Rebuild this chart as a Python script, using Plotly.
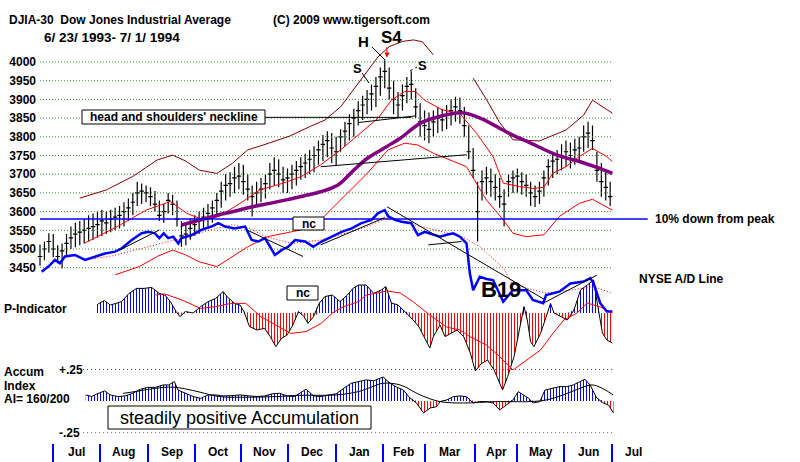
import plotly.graph_objects as go

# ---------------- data (trading-day index 0 = 6/23/1993) ----------------
month_start_day = [6, 27, 49, 70, 91, 112, 134, 155, 174, 197, 216, 237, 259]
month_labels = ["Jul", "Aug", "Sep", "Oct", "Nov", "Dec", "Jan", "Feb", "Mar", "Apr", "May", "Jun", "Jul"]
price_ticks = [3450, 3500, 3550, 3600, 3650, 3700, 3750, 3800, 3850, 3900, 3950, 4000]
peak_price = 3978

bar_day = list(range(0, 259, 2))
price_high = [3512, 3520, 3542, 3540, 3510, 3515, 3540, 3560, 3570, 3575,
              3580, 3590, 3595, 3600, 3605, 3600, 3605, 3610, 3615, 3625,
              3635, 3650, 3680, 3675, 3670, 3665, 3655, 3630, 3620, 3650,
              3645, 3630, 3575, 3565, 3580, 3590, 3600, 3610, 3620, 3630,
              3650, 3680, 3700, 3705, 3720, 3730, 3725, 3700, 3670, 3680,
              3690, 3700, 3730, 3745, 3740, 3720, 3715, 3725, 3735, 3745,
              3755, 3765, 3775, 3790, 3805, 3815, 3810, 3800, 3820, 3840,
              3860, 3875, 3895, 3910, 3925, 3940, 3960, 3985, 4005, 3985,
              3950, 3920, 3940, 3960, 3975, 3930, 3890, 3870, 3865, 3870,
              3880, 3875, 3885, 3900, 3907, 3905, 3880, 3830, 3770, 3680,
              3710, 3720, 3715, 3700, 3690, 3660, 3700, 3710, 3715, 3705,
              3700, 3680, 3670, 3680, 3710, 3740, 3760, 3765, 3780, 3790,
              3785, 3795, 3800, 3830, 3840, 3830, 3760, 3730, 3710, 3680]
price_low = [3455, 3470, 3490, 3478, 3462, 3448, 3480, 3500, 3505, 3510,
             3515, 3520, 3525, 3530, 3535, 3540, 3545, 3550, 3555, 3560,
             3575, 3590, 3615, 3620, 3625, 3615, 3600, 3575, 3570, 3595,
             3590, 3560, 3506, 3510, 3525, 3535, 3540, 3550, 3560, 3570,
             3590, 3610, 3630, 3640, 3650, 3660, 3645, 3630, 3587, 3620,
             3625, 3635, 3660, 3670, 3665, 3650, 3650, 3660, 3670, 3685,
             3690, 3700, 3705, 3725, 3735, 3745, 3730, 3722, 3760, 3775,
             3790, 3800, 3830, 3845, 3860, 3870, 3880, 3910, 3930, 3900,
             3860, 3850, 3870, 3890, 3900, 3850, 3800, 3790, 3783, 3800,
             3810, 3815, 3820, 3830, 3840, 3835, 3800, 3740, 3690, 3520,
             3630, 3645, 3640, 3630, 3610, 3560, 3640, 3650, 3650, 3645,
             3640, 3615, 3612, 3620, 3640, 3670, 3690, 3700, 3710, 3720,
             3715, 3725, 3730, 3760, 3770, 3765, 3680, 3640, 3630, 3615]
price_close = [3480, 3500, 3520, 3500, 3480, 3495, 3515, 3530, 3540, 3545,
               3550, 3555, 3560, 3565, 3575, 3570, 3580, 3585, 3590, 3600,
               3610, 3625, 3650, 3655, 3650, 3640, 3620, 3590, 3600, 3630,
               3620, 3580, 3535, 3540, 3555, 3565, 3575, 3585, 3595, 3610,
               3630, 3655, 3670, 3675, 3690, 3695, 3680, 3660, 3640, 3650,
               3660, 3675, 3700, 3710, 3700, 3685, 3690, 3700, 3710, 3720,
               3730, 3740, 3750, 3765, 3780, 3790, 3770, 3760, 3800, 3815,
               3835, 3850, 3870, 3885, 3900, 3915, 3935, 3960, 3975, 3930,
               3900, 3885, 3910, 3935, 3940, 3880, 3840, 3830, 3820, 3840,
               3850, 3845, 3860, 3870, 3880, 3870, 3830, 3760, 3710, 3600,
               3680, 3690, 3680, 3665, 3640, 3620, 3680, 3690, 3695, 3680,
               3670, 3650, 3640, 3655, 3690, 3720, 3735, 3740, 3750, 3760,
               3750, 3765, 3770, 3800, 3810, 3790, 3710, 3680, 3665, 3640]

ma_day = [64, 72, 80, 88, 96, 104, 112, 120, 127, 135, 142, 148, 157, 163, 172,
          180, 191, 200, 204, 212, 222, 234, 244, 252, 259]
ma_val = [3564, 3577, 3590, 3601, 3613, 3622, 3632, 3643, 3653, 3672, 3711, 3742,
          3774, 3796, 3836, 3853, 3864, 3848, 3836, 3810, 3783, 3751, 3734, 3718, 3702]

upper_day = [18, 30, 42, 53, 60, 66, 72, 80, 87, 94, 101, 113, 122, 129, 136, 144,
             153, 158, 164, 169, 173, 178, None, 196, 202, 208, 214, 226, 238, 246,
             250, 259]
upper_val = [3636, 3658, 3694, 3738, 3751, 3735, 3711, 3702, 3729, 3765, 3778, 3802,
             3827, 3845, 3880, 3943, 4014, 4041, 4055, 4059, 4054, 4019, None, 3957,
             3900, 3838, 3792, 3789, 3818, 3858, 3898, 3863]

mid_day = [20, 35, 48, 59, 66.5, 74, 81, 90.5, 99.5, 110, 118, 127, 136, 145, 153,
           159, 165, 170, 174, 182, 190, 197.6, 205, 209.6, 217, 223, 228, 232, 238,
           244, 250, 256.5, 259]
mid_val = [3515, 3560, 3604, 3627, 3595, 3578, 3587, 3622, 3658, 3676, 3693, 3725,
           3765, 3809, 3850, 3898, 3921, 3921, 3898, 3872, 3862, 3809, 3747, 3676,
           3667, 3662, 3665, 3702, 3720, 3747, 3769, 3747, 3734]

lower_day = [34, 45, 53, 60, 66, 72, 80, 87, 94, 103, 118, 127, 136, 141, 148, 157.5,
             165, 171, 178, 193, 202, 209.6, 214, 220, 228, 235, 244, 250, 259]
lower_val = [3431, 3453, 3480, 3497, 3484, 3466, 3453, 3480, 3506, 3533, 3551, 3578,
             3631, 3658, 3702, 3765, 3783, 3778, 3756, 3720, 3631, 3578, 3542, 3533,
             3538, 3587, 3622, 3633, 3604]

ad_day = [0.75, 3.8, 6.8, 9, 11.3, 15.8, 20.4, 24.9, 29.4, 34, 37, 41.5, 46, 49, 52,
          54, 56, 58, 60.3, 62.6, 64, 68.6, 73, 77.6, 80.7, 83.7, 88, 92.8, 95.8, 98.8,
          101.8, 106.3, 109.3, 112.3, 115.4, 120, 123.6, 127.4, 132, 136.5, 141, 145.5,
          150, 153, 156, 157.6, 160.6, 163.6, 168, 171, 174, 178, 181, 184, 187, 190,
          193, 194.5, 196, 199, 202, 205, 209.6, 214, 220, 223, 227.7, 229, 235, 240,
          246, 249, 250.5, 253.5, 256.5, 259]
ad_val = [3439, 3453, 3471, 3462, 3480, 3484, 3471, 3480, 3488, 3493, 3502, 3524,
          3542, 3546, 3542, 3529, 3542, 3529, 3533, 3515, 3529, 3537, 3551, 3560, 3569,
          3560, 3555, 3560, 3524, 3520, 3529, 3484, 3497, 3506, 3524, 3520, 3506, 3520,
          3533, 3546, 3555, 3569, 3578, 3596, 3604, 3587, 3578, 3573, 3569, 3537, 3546,
          3538, 3533, 3538, 3542, 3533, 3515, 3435, 3390, 3426, 3420, 3417, 3359, 3390,
          3390, 3364, 3355, 3377, 3386, 3408, 3413, 3422, 3408, 3355, 3333, 3333]

adma_day = [22, 33, 43, 58, 66, 75, 87, 95, 102, 114, 127, 140, 148, 158, 169, 180,
            191, 199, 209.6, 214, 229, 240, 250.5, 259]
adma_val = [3472, 3482, 3497, 3520, 3530, 3548, 3565, 3555, 3533, 3515, 3524, 3545,
            3560, 3585, 3565, 3550, 3533, 3506, 3450, 3405, 3382, 3390, 3399, 3382]

p_day = [25.8, 26.7, 29.2, 31.8, 34.3, 36.9, 40.3, 43.7, 47.1, 50.5, 53.9, 56.5, 59,
         61.6, 63.3, 65.8, 69.3, 72.7, 76.1, 79.5, 82.9, 84.6, 88, 90.5, 92.3, 94.8,
         98.2, 101.6, 104.2, 106.7, 109.3, 111.8, 114.4, 117, 119.5, 121.2, 123.8,
         126.3, 128.9, 132.3, 135.7, 139.1, 141.6, 144.2, 147.6, 151, 154.4, 156.5,
         159, 162, 165, 168.9, 171.5, 174.5, 176.4, 178, 181, 183.3, 188.7, 191.7,
         194.7, 197, 199.5, 202.5, 205.5, 209.3, 211.6, 214.5, 217.5, 219, 220.5, 222,
         223.5, 226.5, 229.6, 231, 232.6, 235.6, 238.6, 241.6, 244.6, 247.6, 250.5,
         252, 253, 254.5, 256.5, 259]
p_val = [40, 48, 62, 40, 48, 57, 98, 123, 123, 128, 98, 90, 57, 7, -18, 7, 0, 32, 57,
         73, 107, 82, 48, 40, 7, -68, -85, -77, -118, -168, -127, -110, -60, 7, -18,
         -52, -18, 48, 82, 90, 57, 90, 123, 140, 140, 98, 115, 132, 50, 40, 8, -35, -70,
         -130, -175, -118, -60, -118, -85, -118, -200, -290, -255, -235, -285, -385,
         -318, -218, -50, 32, -35, -143, -168, -102, 0, 48, 0, -18, -35, 15, 115, 140,
         165, 60, 0, -100, -135, -150]

pma_day = [52.2, 56.5, 64.2, 72.7, 79.5, 86.3, 93.1, 99.9, 106.7, 113.5, 120.4, 127.2,
           132.3, 137.4, 144.2, 147.6, 152.7, 157, 163, 169, 176.4, 184, 190, 194.5,
           202, 208, 214, 220, 226.5, 232.6, 237, 243, 247.6, 253.5, 259]
pma_val = [90, 95, 65, 23, 32, 48, 48, -18, -60, -102, -93, -52, 0, 32, 57, 90, 100,
           110, 100, 55, -10, -70, -85, -118, -160, -218, -285, -235, -185, -95, -35, 0,
           50, 30, 0]

ai_day = [20.7, 23.3, 25.8, 29.2, 31.8, 35.2, 38.6, 42, 45.4, 48.8, 52.2, 55.7, 58.2,
          60.8, 62.4, 65.8, 69.3, 72.7, 76.1, 79.5, 82.9, 86.3, 90.5, 94.8, 98.2, 101.6,
          105, 108.4, 111.8, 115.2, 117, 120.4, 123.8, 127.2, 130.6, 134, 137.4, 140.8,
          144.2, 147.6, 151, 153.8, 155.3, 158.4, 161.4, 164.4, 167.4, 170.4, 173.5,
          176.5, 179.5, 181, 184, 187, 190, 193, 196, 199, 202, 205, 208, 211, 214,
          216.4, 218.6, 220.9, 223.2, 226.2, 228.5, 232.3, 235.3, 238.3, 241.3, 244.3,
          246.6, 248.9, 251.9, 254.9, 257.2, 259.5]
ai_val = [0.048, 0.035, 0.056, 0.08, 0.048, 0.035, 0.04, 0.061, 0.093, 0.108, 0.108,
          0.127, 0.127, 0.154, 0.087, 0.061, 0.035, 0.021, 0.048, 0.048, 0.04, 0.042,
          0.048, 0.04, 0.035, 0.04, 0.056, 0.061, 0.04, 0.035, 0.056, 0.093, 0.04, 0.035,
          0.048, 0.056, 0.1, 0.14, 0.154, 0.167, 0.16, 0.18, 0.19, 0.14, 0.11, 0.087,
          0.024, -0.016, -0.095, -0.056, -0.045, -0.005, 0.008, 0.034, 0.04, 0.034,
          -0.016, -0.005, -0.005, -0.016, -0.071, -0.032, 0.008, 0.074, 0.048, 0.024,
          -0.016, -0.005, 0.087, 0.1, 0.114, 0.114, 0.127, 0.153, 0.172, 0.127, 0.024,
          -0.016, -0.032, -0.095]

aima_day = [37.6, 45, 52, 60, 66, 72.4, 81, 95, 107, 117, 134, 144.2, 150, 155, 163,
            172, 181, 191.6, 206.6, 221.7, 229, 236.8, 244.3, 250.3, 259.4]
aima_val = [0.06, 0.08, 0.1, 0.11, 0.095, 0.07, 0.035, 0.03, 0.035, 0.045, 0.048, 0.075,
            0.11, 0.14, 0.127, 0.048, -0.005, -0.016, -0.005, -0.005, 0.008, 0.048, 0.1,
            0.127, 0.048]

# trendlines: ((day, value), (day, value))
price_trendlines = [((101.8, 3852), (168, 3852)), ((144, 3838), (170, 3856)),
                    ((127, 3720), (193, 3752))]
ad_trendlines = [((36, 3497), (54, 3551)), ((93.6, 3551), (119, 3480)),
                 ((127, 3511), (156, 3584)), ((157, 3613), (228, 3366)),
                 ((175.7, 3511), (190.8, 3520)), ((227.7, 3355), (252, 3430))]

# ---------------- figure ----------------
W, H = 800, 462
FONT = "Liberation Sans, Arial, sans-serif"
X_RANGE = [-40 / 2.21, (W - 40) / 2.21]
PRICE_RANGE = [4000 - 400 / 0.374, 4000 + 62 / 0.374]
P_RANGE = [-745, 1565]
AI_RANGE = [-0.484, 3.18]
CLEAR = "rgba(0,0,0,0)"


def px(x):
    return x / W


def py(y):
    return 1 - y / H


fig = go.Figure()

# price grid
gx, gy = [], []
for t in price_ticks:
    gx += [0, 259, None]
    gy += [t, t, None]
fig.add_trace(go.Scatter(x=gx, y=gy, mode="lines", yaxis="y",
                         line=dict(color="#2e8b2e", width=1, dash="1px,2px"),
                         hoverinfo="skip"))

# bands
fig.add_trace(go.Scatter(x=upper_day, y=upper_val, mode="lines", yaxis="y",
                         line=dict(color="#800000", width=1), connectgaps=False))
fig.add_trace(go.Scatter(x=mid_day, y=mid_val, mode="lines", yaxis="y",
                         line=dict(color="#ff0000", width=1)))
fig.add_trace(go.Scatter(x=lower_day, y=lower_val, mode="lines", yaxis="y",
                         line=dict(color="#ff0000", width=1)))

# price bars
fig.add_trace(go.Ohlc(x=bar_day, open=price_close, high=price_high, low=price_low,
                      close=price_close, yaxis="y", tickwidth=0.5,
                      increasing=dict(line=dict(color="black", width=1.2)),
                      decreasing=dict(line=dict(color="black", width=1.2))))

# moving average
fig.add_trace(go.Scatter(x=ma_day, y=ma_val, mode="lines", yaxis="y",
                         line=dict(color="#800080", width=3.5, shape="spline")))

# 10% down line
fig.add_trace(go.Scatter(x=[0, 275], y=[peak_price * 0.9, peak_price * 0.9], mode="lines",
                         yaxis="y", line=dict(color="#0000ff", width=1.5)))

# A/D line + its MA
fig.add_trace(go.Scatter(x=adma_day, y=adma_val, mode="lines", yaxis="y4",
                         line=dict(color="#ff0000", width=1, dash="1px,2px")))
fig.add_trace(go.Scatter(x=ad_day, y=ad_val, mode="lines", yaxis="y4",
                         line=dict(color="#0000ff", width=2.5)))


def hatch(xs, ys, axis, color):
    return go.Scatter(x=xs, y=ys, mode="lines", yaxis=axis, fill="tozeroy",
                      fillcolor=CLEAR, line=dict(width=0, color=CLEAR),
                      fillpattern=dict(shape="|", fgcolor=color, bgcolor="white",
                                       fgopacity=1, size=3, solidity=0.34))


# P-Indicator
p_pos = [max(v, 0) for v in p_val]
p_neg = [min(v, 0) for v in p_val]
fig.add_trace(hatch(p_day, p_pos, "y2", "#0000ff"))
fig.add_trace(hatch(p_day, p_neg, "y2", "#ff0000"))
fig.add_trace(go.Scatter(x=p_day, y=p_val, mode="lines", yaxis="y2",
                         line=dict(color="black", width=1)))
fig.add_trace(go.Scatter(x=pma_day, y=pma_val, mode="lines", yaxis="y2",
                         line=dict(color="#ff0000", width=1)))

# Accumulation index
fig.add_trace(go.Scatter(x=[19.5, 259], y=[0.25, 0.25], mode="lines", yaxis="y3",
                         line=dict(color="#333333", width=1, dash="1px,3px")))
fig.add_trace(go.Scatter(x=[19.5, 259], y=[-0.25, -0.25], mode="lines", yaxis="y3",
                         line=dict(color="#b05080", width=1, dash="1px,3px")))
ai_pos = [max(v, 0) for v in ai_val]
ai_neg = [min(v, 0) for v in ai_val]
fig.add_trace(hatch(ai_day, ai_pos, "y3", "#0000ff"))
fig.add_trace(hatch(ai_day, ai_neg, "y3", "#ff0000"))
fig.add_trace(go.Scatter(x=ai_day, y=ai_val, mode="lines", yaxis="y3",
                         line=dict(color="black", width=1)))
fig.add_trace(go.Scatter(x=aima_day, y=aima_val, mode="lines", yaxis="y3",
                         line=dict(color="black", width=1, shape="spline")))

shapes = []
for (a, b) in price_trendlines:
    shapes.append(dict(type="line", xref="x", yref="y", x0=a[0], y0=a[1], x1=b[0],
                       y1=b[1], line=dict(color="black", width=1)))
for (a, b) in ad_trendlines:
    shapes.append(dict(type="line", xref="x", yref="y4", x0=a[0], y0=a[1], x1=b[0],
                       y1=b[1], line=dict(color="black", width=1)))


def seg(x0, y0, x1, y1, color="black", dash="solid"):
    return dict(type="line", xref="paper", yref="paper", x0=px(x0), y0=py(y0),
                x1=px(x1), y1=py(y1), line=dict(color=color, width=1, dash=dash))


def box(x0, y0, x1, y1):
    return dict(type="rect", xref="paper", yref="paper", x0=px(x0), y0=py(y0),
                x1=px(x1), y1=py(y1), line=dict(color="black", width=1),
                fillcolor="white", layer="above")


shapes += [seg(372, 47, 385, 60), seg(362, 73, 369, 83), seg(410, 71, 417, 67, dash="dot"),
           box(82, 110, 265, 124), box(293, 217, 324, 230), box(287, 286, 318, 300),
           box(108, 406, 371, 429)]


def txt(x, y, s, size=12, bold=True, anchor="left", color="black"):
    return dict(x=px(x), y=py(y), xref="paper", yref="paper", text=s, showarrow=False,
                xanchor=anchor, yanchor="middle",
                font=dict(family=FONT, size=size, color=color,
                          weight="bold" if bold else "normal"))


ann = [
    txt(7, 20, "DJIA-30  Dow Jones Industrial Average", 12),
    txt(271, 20, "(C) 2009 www.tigersoft.com", 12),
    txt(42, 38, "6/ 23/ 1993- 7/ 1/ 1994", 13.5),
    txt(363, 41, "H", 15, anchor="center"),
    txt(391, 38, "S4", 17, anchor="center"),
    txt(357, 68, "S", 13, anchor="center"),
    txt(422, 66, "S", 13, anchor="center"),
    txt(173.5, 117, "head and shoulders' neckline", 12, anchor="center"),
    txt(308.5, 224, "nc", 12, anchor="center"),
    txt(302.5, 293, "nc", 12, anchor="center"),
    txt(653, 219, "10% down from peak", 12),
    txt(637, 279, "NYSE A/D Line", 12),
    txt(501, 289, "B19", 22, anchor="center"),
    txt(2, 309, "P-Indicator", 12),
    txt(2, 372, "Accum", 12),
    txt(2, 386, "Index", 12),
    txt(2, 399, "AI= 160/200", 12),
    txt(57, 370, "+.25", 12),
    txt(57, 433, "-.25", 12),
    txt(239.5, 418, "steadily positive Accumulation", 18, bold=False, anchor="center"),
]
# month labels, centred between month boundaries
for i, lab in enumerate(month_labels):
    if i + 1 < len(month_start_day):
        xm = (month_start_day[i] + month_start_day[i + 1]) / 2
    else:
        xm = month_start_day[i] + 9.5
    ann.append(dict(x=xm, y=py(452), xref="x", yref="paper", text=lab, showarrow=False,
                    xanchor="center", yanchor="middle",
                    font=dict(family=FONT, size=12, color="black", weight="bold")))
# S4 arrow
ann.append(dict(x=157, y=4012, xref="x", yref="y", text="", showarrow=True, ax=0, ay=-12,
                arrowhead=2, arrowsize=1, arrowwidth=1, arrowcolor="#ff0000"))

fig.update_layout(
    width=W, height=H, margin=dict(l=0, r=0, t=0, b=0),
    paper_bgcolor="white", plot_bgcolor="white", showlegend=False,
    xaxis=dict(range=X_RANGE, domain=[0, 1], anchor="free", position=1 - 443 / H,
               tickvals=month_start_day, ticks="outside", ticklen=19, tickwidth=2,
               tickcolor="#0000ff", showticklabels=False, showgrid=False, zeroline=False,
               showline=False, rangeslider=dict(visible=False), fixedrange=True),
    yaxis=dict(range=PRICE_RANGE, domain=[0, 1], anchor="free", position=36 / W,
               tickvals=price_ticks, ticktext=[str(t) for t in price_ticks], ticks="",
               showgrid=False, zeroline=False, showline=False,
               tickfont=dict(family=FONT, size=12, color="black", weight="bold")),
    yaxis2=dict(overlaying="y", range=P_RANGE, visible=False),
    yaxis3=dict(overlaying="y", range=AI_RANGE, visible=False),
    yaxis4=dict(overlaying="y", range=PRICE_RANGE, visible=False),
    shapes=shapes, annotations=ann,
)

fig.write_html("out.html")
